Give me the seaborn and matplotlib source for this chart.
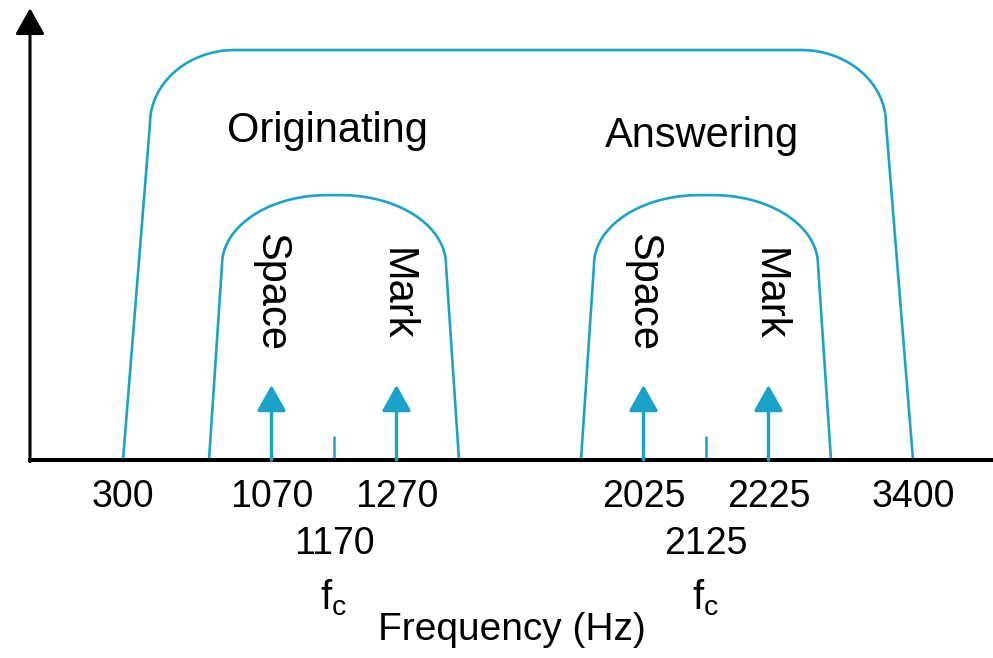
import numpy as np
import pandas as pd
import matplotlib.pyplot as plt
import seaborn as sns


# values (Hz)
tick_freqs = [300, 1070, 1270, 2025, 2225, 3400]
center_freqs = [1170, 2125]
space_freqs = [1070, 2025]
mark_freqs = [1270, 2225]
channel_names = ["Originating", "Answering"]
channel_lo = [970, 1925]
channel_hi = [1370, 2325]
line_band = [300, 3400]

# relative levels (telephone line passband = 1)
line_level = 1.0
channel_level = 0.646
tone_level = 0.183
fc_level = 0.058

BLUE = "#1aa3c8"

# the frequency axis is schematic, not proportional: piecewise-linear scale
SCALE_HZ = [0, 300, 970, 1370, 1925, 2325, 3400, 3700]
SCALE_UNITS = [0, 93, 179, 429, 551, 801, 883, 963]


def forward(x):
    return np.interp(x, SCALE_HZ, SCALE_UNITS)


def inverse(u):
    return np.interp(u, SCALE_UNITS, SCALE_HZ)


def band_outline(lo, hi, level, slant, rx, ry, n=40):
    """
    Rounded band-pass shape, built in scale units and mapped back to Hz.
    """
    u_lo, u_hi = forward(lo), forward(hi)
    t1 = np.linspace(np.pi, np.pi / 2, n)
    t2 = np.linspace(np.pi / 2, 0, n)
    left_u = u_lo + slant + rx + rx * np.cos(t1)
    right_u = u_hi - slant - rx + rx * np.cos(t2)
    left_y = level - ry + ry * np.sin(t1)
    right_y = level - ry + ry * np.sin(t2)
    u = np.concatenate([[u_lo], left_u, right_u, [u_hi]])
    y = np.concatenate([[0], left_y, right_y, [0]])
    return inverse(u), y


sns.set_theme(style="white")
plt.rcParams["font.family"] = ["Liberation Sans", "DejaVu Sans"]
plt.rcParams["text.color"] = "black"
plt.rcParams["mathtext.fontset"] = "custom"
plt.rcParams["mathtext.rm"] = "Liberation Sans"
plt.rcParams["mathtext.it"] = "Liberation Sans"

frames = []
fx, fy = band_outline(line_band[0], line_band[1], line_level, 27, 85, 0.18)
frames.append(pd.DataFrame({"freq": fx, "level": fy, "band": "line"}))
for name, lo, hi in zip(channel_names, channel_lo, channel_hi):
    fx, fy = band_outline(lo, hi, channel_level, 13, 105, 0.17)
    frames.append(pd.DataFrame({"freq": fx, "level": fy, "band": name}))
bands = pd.concat(frames, ignore_index=True)

fig = plt.figure(figsize=(9.93, 6.58), dpi=100)
ax = fig.add_axes([30 / 993, 198 / 658, 963 / 993, 460 / 658])
ax.set_xscale("function", functions=(forward, inverse))

sns.lineplot(
    data=bands,
    x="freq",
    y="level",
    units="band",
    estimator=None,
    sort=False,
    color=BLUE,
    linewidth=1.9,
    ax=ax
)

ax.set_xlim(0, 3700)
ax.set_ylim(0, 460 / 410)

# carrier centre ticks
ax.vlines(center_freqs, 0, fc_level, color=BLUE, linewidth=1.8)

# space / mark tones
tone_style = dict(
    arrowstyle="-|>,head_length=0.8,head_width=0.45",
    mutation_scale=20,
    color=BLUE,
    linewidth=2.4,
    shrinkA=0,
    shrinkB=0
)
for f in space_freqs + mark_freqs:
    ax.annotate("", xy=(f, tone_level), xytext=(f, 0), arrowprops=tone_style)

for f in space_freqs:
    ax.text(f, 0.41, "Space", rotation=270, ha="center", va="center",
            fontsize=30)
for f in mark_freqs:
    ax.text(f, 0.405, "Mark", rotation=270, ha="center", va="center",
            fontsize=30)

ax.text(1160, 0.776, channel_names[0], ha="center", va="baseline",
        fontsize=30)
ax.text(2119, 0.763, channel_names[1], ha="center", va="baseline",
        fontsize=30)

# vertical axis arrow
ax.annotate(
    "",
    xy=(0, 1.102),
    xytext=(0, -0.004),
    arrowprops=dict(
        arrowstyle="-|>,head_length=0.8,head_width=0.45",
        mutation_scale=20,
        color="black",
        linewidth=2.2,
        shrinkA=0,
        shrinkB=0
    ),
    annotation_clip=False
)

ax.set_xticks(tick_freqs)
ax.set_xticklabels([str(f) for f in tick_freqs])
ax.tick_params(axis="x", length=0, pad=14, labelsize=27,
               colors="black", labelcolor="black")
ax.set_yticks([])
ax.set_ylabel("")

for f in center_freqs:
    ax.text(f, -0.205, str(f), ha="center", va="center", fontsize=27,
            clip_on=False)
    ax.text(f, -0.335, r"$\mathrm{f_c}$", ha="center", va="center",
            fontsize=29, clip_on=False)

ax.set_xlabel("Frequency (Hz)", fontsize=28, color="black")
ax.xaxis.set_label_coords(0.5, -(612 - 460) / 460)

for side in ["left", "top", "right"]:
    ax.spines[side].set_visible(False)
ax.spines["bottom"].set_color("black")
ax.spines["bottom"].set_linewidth(2.9)

fig.savefig("out.png", dpi=100)
plt.close(fig)
